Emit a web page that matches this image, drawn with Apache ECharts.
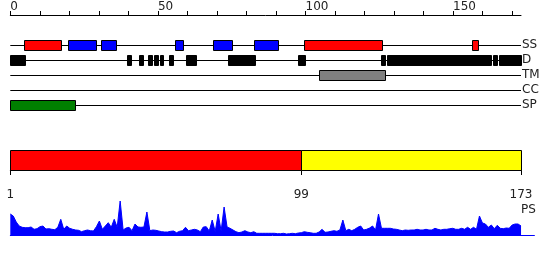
<!DOCTYPE html>
<html>
<head>
<meta charset="utf-8">
<script src="https://cdn.jsdelivr.net/npm/echarts@6/dist/echarts.min.js"></script>
<style>
html,body{margin:0;padding:0;background:#fff;}
#chart{width:550px;height:260px;}
</style>
</head>
<body>
<div id="chart"></div>
<script>
// ---- data ----
const seqLength = 173;
const topTickValues = [0,10,20,30,40,50,60,70,80,90,100,110,120,130,140,150,160,170];
const topLabelValues = [0,50,100,150];
const tracks = ['SS','D','TM','CC','SP'];
// secondary structure: helices (red) and strands (blue)
const helixRanges = [[4.7,17.1],[99.6,125.8],[156.4,158.6]];
const strandRanges = [[19.6,29.0],[30.8,35.9],[55.9,58.6],[68.7,75.0],[82.6,90.8]];
// disorder
const disorderRanges = [[0,4.9],[39.5,40.8],[43.6,44.8],[46.6,47.9],[48.6,49.9],[50.6,51.8],[53.7,55.0],[59.5,62.8],[73.7,82.9],[97.4,99.8],[125.5,126.9],[127.6,162.8],[163.5,164.8],[165.5,172.9]];
// transmembrane
const tmRanges = [[104.6,126.8]];
// coiled coil
const ccRanges = [];
// signal peptide
const spRanges = [[0,21.8]];
// domain bar
const domainRanges = [[1,99],[99,173]];
const bottomTickValues = [1,99,173];
// PS profile, one value per residue (1..173)
const psValues = [
21,19,13,9,7.7,7.3,7.3,8,5.7,6.3,
8.3,9,6,6.3,5.7,5.3,7.7,15.7,5.7,9,
6.7,5.7,5,4.7,3.3,4.3,5,4.3,4,8.3,
14,5.7,9,12.3,7.7,15.7,7.7,34,5,7,
7.7,4.3,11,8,7.7,8,23,4.3,5,4.7,
4,3.3,3,3,3.7,4,2.3,3.7,4.3,7.7,
4.3,5,5.7,5,3.3,8,8.3,4,15,3.5,
21,4,28,8,6.7,5,3.3,2.3,3,4.3,
3,2.3,3.3,1.7,1.7,1.7,1.7,1.7,1.7,1.7,
1.3,1.3,1.7,1,1.3,1.7,1.3,2,2.3,3.3,
2.7,2.3,1.7,1.7,3,5.7,2.7,3,3.7,4.3,
3.7,5,15,4.3,5.7,4.3,5.7,7.7,9,5,
5.7,7,9,5,21,6.7,6.7,6.7,6.7,6,
5.7,5,4.3,5,4.7,5,5,5.7,5,5,
5.7,5,5,6.7,5.7,5,5.7,5.7,6.3,6.7,
5.7,5.7,6.7,5.7,7.7,5.7,7.7,5.7,19,12,
11,7.7,10,6.3,9.7,6.7,6.3,7,6.7,10,
11,11,9
];
const psLabel = 'PS';

// ---- chart ----
const FONT = 'DejaVu Sans';
const chart = echarts.init(document.getElementById('chart'), null, {renderer:'canvas'});

function boxSeries(ranges, trackIdx, color){
  return {
    type:'custom', xAxisIndex:0, yAxisIndex:0, silent:true,
    data: ranges.map(r => [r[0], r[1], trackIdx]),
    encode:{x:[0,1], y:2},
    renderItem:function(params, api){
      const s = api.coord([api.value(0), api.value(2)]);
      const e = api.coord([api.value(1), api.value(2)]);
      const x0 = Math.round(s[0]), x1 = Math.round(e[0]);
      const yc = Math.round(s[1]);
      return {type:'rect', shape:{x:x0+0.5, y:yc-4.5, width:Math.max(x1-x0,1), height:10},
        style:{fill:color, stroke:'#000', lineWidth:1}};
    }
  };
}

const domainColors = ['#ff0000','#ffff00'];

const option = {
  animation:false,
  textStyle:{fontFamily:FONT},
  grid:[
    {left:10.3, width:510.7, top:45, height:60, outerBoundsMode:'none'},
    {left:10.3, width:510.7, top:150, height:20, outerBoundsMode:'none'},
    {left:10.3, width:524.1, top:200, height:35, outerBoundsMode:'none'}
  ],
  xAxis:[
    {gridIndex:0, type:'value', position:'top', offset:30, min:0, max:seqLength, interval:10,
      axisLine:{show:true, lineStyle:{color:'#000', width:1}},
      axisTick:{show:true, length:4, customValues:topTickValues, lineStyle:{color:'#000'}},
      axisLabel:{show:true, customValues:topLabelValues, align:'left', margin:2,
        fontFamily:FONT, fontSize:12, color:'#222',
        formatter:function(v){ return topLabelValues.indexOf(v) >= 0 ? String(v) : ''; }},
      splitLine:{show:false}},
    {gridIndex:1, type:'value', position:'bottom', offset:10, min:bottomTickValues[0], max:bottomTickValues[bottomTickValues.length-1],
      axisLine:{show:true, lineStyle:{color:'#000', width:1}},
      axisTick:{show:true, length:5, customValues:bottomTickValues, lineStyle:{color:'#000'}},
      axisLabel:{show:true, customValues:bottomTickValues, margin:9,
        fontFamily:FONT, fontSize:12, color:'#222',
        formatter:function(v){ return bottomTickValues.indexOf(v) >= 0 ? String(v) : ''; }},
      splitLine:{show:false}},
    {gridIndex:2, type:'value', min:1, max:177.5,
      axisLine:{show:true, onZero:false, lineStyle:{color:'#0000ff', width:1}},
      axisTick:{show:false}, axisLabel:{show:false}, splitLine:{show:false}}
  ],
  yAxis:[
    {gridIndex:0, type:'category', data:tracks, inverse:true, boundaryGap:false, position:'right',
      axisLine:{show:false}, axisTick:{show:false},
      axisLabel:{show:true, interval:0, margin:1, fontFamily:FONT, fontSize:12, color:'#222'},
      splitLine:{show:true, interval:0, lineStyle:{color:'#000', width:1}}},
    {gridIndex:1, type:'value', min:0, max:1, show:false},
    {gridIndex:2, type:'value', min:0, max:35, show:false}
  ],
  graphic:[
    {type:'text', left:521, top:204, silent:true,
      style:{text:psLabel, font:'12px "DejaVu Sans"', fill:'#222'}}
  ],
  series:[
    boxSeries(helixRanges, 0, '#ff0000'),
    boxSeries(strandRanges, 0, '#0000ff'),
    boxSeries(disorderRanges, 1, '#000000'),
    boxSeries(tmRanges, 2, '#808080'),
    boxSeries(ccRanges, 3, '#ffa500'),
    boxSeries(spRanges, 4, '#008000'),
    {
      type:'custom', xAxisIndex:1, yAxisIndex:1, silent:true,
      data: domainRanges.map((r,i) => [r[0], r[1], i]),
      encode:{x:[0,1]},
      renderItem:function(params, api){
        const s = api.coord([api.value(0), 1]);
        const e = api.coord([api.value(1), 0]);
        const x0 = Math.round(s[0]), x1 = Math.round(e[0]);
        const y0 = Math.round(s[1]), y1 = Math.round(e[1]);
        return {type:'rect', shape:{x:x0+0.5, y:y0+0.5, width:x1-x0, height:y1-y0},
          style:{fill:domainColors[api.value(2)], stroke:'#000', lineWidth:1}};
      }
    },
    {
      type:'line', xAxisIndex:2, yAxisIndex:2, silent:true,
      data: psValues.map((v,i) => [i+1, v]),
      showSymbol:false, symbol:'none', smooth:false,
      lineStyle:{color:'#0000ff', width:1},
      areaStyle:{color:'#0000ff', opacity:1},
      itemStyle:{color:'#0000ff'}
    }
  ]
};
chart.setOption(option);
</script>
</body>
</html>
